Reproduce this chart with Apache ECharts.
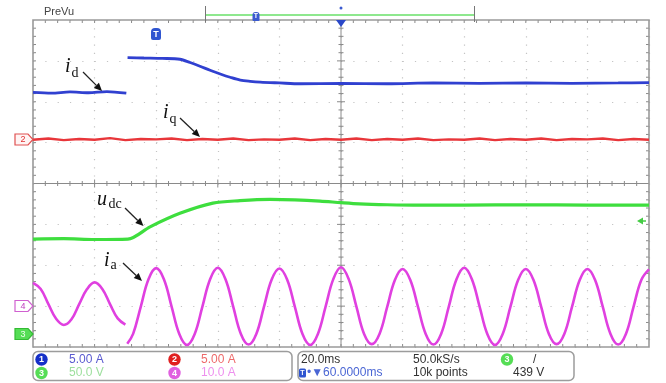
<!DOCTYPE html>
<html><head><meta charset="utf-8">
<script src="https://cdn.jsdelivr.net/npm/echarts@6/dist/echarts.min.js"></script>
<style>html,body{margin:0;padding:0;background:#fff}#c{width:666px;height:383px}</style>
</head><body><div id="c"></div><script>
// ---- data (time in ms, 20 ms/div; values in screen divisions, centre = 0) ----
const timeRange = [0, 200];
const divRange = [-4, 4];

const idT = [0, 6, 12, 18, 24, 30.3, 30.5, 30.7, 36, 42, 47.7, 51, 54.2, 57.5, 60.8, 64, 67.3, 70.5, 73.8, 80, 86.8, 100, 115, 130, 145, 160, 175, 190, 200];
const idV = [2.23, 2.21, 2.24, 2.22, 2.25, 2.21, null, 3.08, 3.07, 3.06, 3.04, 2.96, 2.87, 2.77, 2.68, 2.60, 2.53, 2.50, 2.48, 2.46, 2.44, 2.45, 2.44, 2.46, 2.45, 2.46, 2.45, 2.46, 2.47];

const iqT = [0,5,10,15,20,25,30,35,40,45,50,55,60,65,70,75,80,85,90,95,100,105,110,115,120,125,130,135,140,145,150,155,160,165,170,175,180,185,190,195,200];
const iqV = [1.07,1.10,1.06,1.09,1.07,1.11,1.06,1.09,1.08,1.10,1.06,1.09,1.07,1.10,1.06,1.08,1.07,1.10,1.06,1.09,1.07,1.10,1.06,1.09,1.07,1.10,1.06,1.08,1.07,1.10,1.06,1.09,1.07,1.10,1.06,1.09,1.08,1.10,1.06,1.09,1.07];

const udcT = [0, 10, 20, 30.8, 38.0, 47.7, 58.4, 67.2, 77, 85, 93.2, 100, 106, 115, 125.6, 140, 160, 180, 200];
const udcV = [-1.36, -1.35, -1.37, -1.36, -1.06, -0.73, -0.48, -0.42, -0.39, -0.40, -0.43, -0.47, -0.50, -0.52, -0.53, -0.53, -0.52, -0.53, -0.53];

const iaPreT = [0,2.5,5,7.5,10,12.5,15,17.5,20,22.5,25,27.5,30];
const iaPreV = [-2.43,-2.58,-2.95,-3.31,-3.46,-3.32,-2.95,-2.59,-2.42,-2.58,-2.95,-3.30,-3.45];

const iaPostT = [30.6,32.5,35,37.5,40,42.5,45,47.5,50,52.5,55,57.5,60,62.5,65,67.5,70,72.5,75,77.5,80,82.5,85,87.5,90,92.5,95,97.5,100,102.5,105,107.5,110,112.5,115,117.5,120,122.5,125,127.5,130,132.5,135,137.5,140,142.5,145,147.5,150,152.5,155,157.5,160,162.5,165,167.5,170,172.5,175,177.5,180,182.5,185,187.5,190,192.5,195,197.5,200];
const iaPostV = [-3.92,
 -3.68,-3.01,-2.34,-2.07,-2.34,-3.01,-3.68,-3.95,
 -3.68,-3.01,-2.34,-2.06,-2.34,-3.01,-3.68,-3.94,
 -3.68,-3.01,-2.35,-2.08,-2.35,-3.01,-3.68,-3.95,
 -3.68,-3.01,-2.34,-2.05,-2.34,-3.01,-3.68,-3.93,
 -3.68,-3.02,-2.36,-2.09,-2.36,-3.02,-3.68,-3.94,
 -3.68,-3.01,-2.34,-2.06,-2.34,-3.01,-3.68,-3.95,
 -3.68,-3.02,-2.36,-2.09,-2.36,-3.02,-3.68,-3.93,
 -3.68,-3.02,-2.36,-2.09,-2.36,-3.02,-3.68,-3.94,
 -3.68,-3.01,-2.36,-2.10];

const pairs = (T, V) => T.map((t, i) => [t, V[i] === null ? '-' : V[i]]);

// ---- graticule drawn through the axes' scales ----
function graticule(params, api) {
  const c = (x, y) => api.coord([x, y]);
  const [L, B] = c(timeRange[0], divRange[0]);
  const [R, T] = c(timeRange[1], divRange[1]);
  const [CX, CY] = c((timeRange[0] + timeRange[1]) / 2, 0);
  const els = [];
  const st = { stroke: '#8a8a8a', lineWidth: 1 };
  const line = (x1, y1, x2, y2) => els.push({ type: 'line', shape: { x1, y1, x2, y2 }, style: st });
  line(CX, T, CX, B); line(L, CY, R, CY);
  for (let k = 1; k < 50; k++) {
    const x = c(timeRange[0] + k * 4, 0)[0];
    const h = k % 5 === 0 ? 4 : 2.5;
    line(x, CY - h, x, CY + h); line(x, T, x, T + 3); line(x, B - 3, x, B);
  }
  for (let k = 1; k < 40; k++) {
    const y = c(0, divRange[0] + k * 0.2)[1];
    const h = k % 5 === 0 ? 4 : 2.5;
    line(CX - h, y, CX + h, y); line(L, y, L + 3, y); line(R - 3, y, R, y);
  }
  els.push({ type: 'rect', shape: { x: L, y: T, width: R - L, height: B - T }, style: { fill: 'none', stroke: '#9a9a9a', lineWidth: 1.6 } });
  return { type: 'group', children: els };
}

// ---- annotation helpers ----
const G = [];
function txt(x, y, text, fill, font, align) {
  G.push({ type: 'text', x, y, z: 50, style: { text, fill, font, textAlign: align || 'left', textVerticalAlign: 'middle', verticalAlign: 'middle' } });
}
function arrow(x1, y1, x2, y2) {
  const a = Math.atan2(y2 - y1, x2 - x1), L = 8, W = 3.6;
  const bx = x2 - L * Math.cos(a), by = y2 - L * Math.sin(a);
  G.push({ type: 'line', z: 50, shape: { x1, y1, x2: bx, y2: by }, style: { stroke: '#222', lineWidth: 1.3 } });
  G.push({ type: 'polygon', z: 50, shape: { points: [[x2, y2], [bx + W * Math.sin(a), by - W * Math.cos(a)], [bx - W * Math.sin(a), by + W * Math.cos(a)]] }, style: { fill: '#111' } });
}
function circ(cx, cy, fill, label, lc) {
  G.push({ type: 'circle', z: 50, shape: { cx, cy, r: 6.2 }, style: { fill } });
  txt(cx, cy + 0.5, label, lc || '#fff', 'bold 9px "Liberation Sans"', 'center');
}
function marker(y, stroke, fill, label, lc) {
  G.push({ type: 'polygon', z: 50, shape: { points: [[15, y - 5.5], [28, y - 5.5], [33, y], [28, y + 5.5], [15, y + 5.5]] }, style: { fill, stroke, lineWidth: 1.2 } });
  txt(23, y + 0.5, label, lc, '9px "Liberation Sans"', 'center');
}
const SERIF_I = 'italic 20px "Liberation Serif"';
const SERIF_S = '14px "Liberation Serif"';
// labels
txt(65, 67, 'i', '#111', SERIF_I); txt(71.5, 73, 'd', '#111', SERIF_S); arrow(83, 72, 102, 91);
txt(163, 113, 'i', '#111', SERIF_I); txt(169.5, 119, 'q', '#111', SERIF_S); arrow(180, 118, 200, 137);
txt(97, 200, 'u', '#111', SERIF_I); txt(108.5, 204.5, 'dc', '#111', SERIF_S); arrow(125, 208, 143.5, 226);
txt(104, 261, 'i', '#111', SERIF_I); txt(110.5, 265.5, 'a', '#111', SERIF_S); arrow(123, 263, 142, 281);
// channel markers
marker(139.5, '#e05050', '#fff4f4', '2', '#e03030');
marker(306, '#d060d0', '#fff', '4', '#c040c0');
marker(334, '#33bb33', '#55dd55', '3', '#eaffea');
// trigger level marker right
G.push({ type: 'polygon', z: 50, shape: { points: [[637, 221], [643, 217.5], [643, 224.5]] }, style: { fill: '#44cc44' } });
G.push({ type: 'line', z: 50, shape: { x1: 642, y1: 221, x2: 646, y2: 221 }, style: { stroke: '#44cc44', lineWidth: 1.5 } });
// top bar
txt(44, 12, 'PreVu', '#444', '11px "Liberation Sans"');
G.push({ type: 'line', z: 50, shape: { x1: 205.5, y1: 6, x2: 205.5, y2: 22 }, style: { stroke: '#777', lineWidth: 1 } });
G.push({ type: 'line', z: 50, shape: { x1: 474.5, y1: 6, x2: 474.5, y2: 22 }, style: { stroke: '#777', lineWidth: 1 } });
G.push({ type: 'line', z: 49, shape: { x1: 206, y1: 15, x2: 474, y2: 15 }, style: { stroke: '#8ee88e', lineWidth: 2 } });
G.push({ type: 'rect', z: 50, shape: { x: 252.5, y: 12, width: 7, height: 9, r: [3, 3, 1, 1] }, style: { fill: '#3a5ad0' } });
txt(256, 16.5, 'T', '#fff', 'bold 7px "Liberation Sans"', 'center');
G.push({ type: 'circle', z: 50, shape: { cx: 341, cy: 8, r: 1.5 }, style: { fill: '#3a5ad0' } });
G.push({ type: 'polygon', z: 50, shape: { points: [[336, 20], [346, 20], [341, 27]] }, style: { fill: '#2a48c8' } });
// trigger position marker
G.push({ type: 'rect', z: 50, shape: { x: 151, y: 28, width: 10, height: 12, r: [4, 4, 2, 2] }, style: { fill: '#2f55d0' } });
txt(156, 34.5, 'T', '#fff', 'bold 9px "Liberation Sans"', 'center');
// bottom info panel
G.push({ type: 'rect', z: 40, shape: { x: 33, y: 351.5, width: 259, height: 29, r: 5 }, style: { fill: '#fff', stroke: '#9c9c9c', lineWidth: 1.5 } });
G.push({ type: 'rect', z: 40, shape: { x: 298, y: 351.5, width: 276, height: 29, r: 5 }, style: { fill: '#fff', stroke: '#9c9c9c', lineWidth: 1.5 } });
const PF = '12px "Liberation Sans"';
circ(41.5, 359.5, '#1530c8', '1'); txt(69, 359.5, '5.00 A', '#5a5ad0', PF);
circ(174.5, 359.5, '#e02020', '2'); txt(201, 359.5, '5.00 A', '#ee6a6a', PF);
circ(41.5, 373, '#55dd55', '3'); txt(69, 373, '50.0 V', '#9ddf9d', PF);
circ(174.5, 373, '#e060e0', '4'); txt(201, 373, '10.0 A', '#ee90ee', PF);
txt(301, 359.5, '20.0ms', '#333', PF);
txt(413, 359.5, '50.0kS/s', '#333', PF);
circ(507, 359.5, '#55dd55', '3'); txt(533, 359.5, '/', '#333', PF);
G.push({ type: 'rect', z: 50, shape: { x: 299, y: 368.5, width: 7, height: 9, r: 1.5 }, style: { fill: '#2f55d0' } });
txt(302.5, 373, 'T', '#fff', 'bold 7px "Liberation Sans"', 'center');
txt(307, 373, '•▼60.0000ms', '#4a66d4', PF);
txt(413, 373, '10k points', '#333', PF);
txt(513, 373, '439 V', '#333', PF);

const chart = echarts.init(document.getElementById('c'), null, { renderer: 'canvas' });
chart.setOption({
  animation: false,
  backgroundColor: '#fff',
  grid: { left: 33, top: 20, right: 17, bottom: 36, containLabel: false },
  xAxis: {
    type: 'value', min: timeRange[0], max: timeRange[1], interval: 20,
    axisLine: { show: false }, axisTick: { show: false }, axisLabel: { show: false },
    splitLine: { show: true, lineStyle: { color: '#c4c4c4', width: 1.2, type: [1.2, 6.98] } }
  },
  yAxis: {
    type: 'value', min: divRange[0], max: divRange[1], interval: 1,
    axisLine: { show: false }, axisTick: { show: false }, axisLabel: { show: false },
    splitLine: { show: true, lineStyle: { color: '#c4c4c4', width: 1.2, type: [1.2, 11.12] } }
  },
  series: [
    { type: 'custom', renderItem: graticule, data: [[0, 0]], silent: true, z: 1 },
    { name: 'id', type: 'line', data: pairs(idT, idV), showSymbol: false, smooth: 0.3, connectNulls: false, lineStyle: { color: '#3040d0', width: 2.8 }, z: 3 },
    { name: 'iq', type: 'line', data: pairs(iqT, iqV), showSymbol: false, lineStyle: { color: '#e8363a', width: 2.4 }, z: 3 },
    { name: 'udc', type: 'line', data: pairs(udcT, udcV), showSymbol: false, smooth: 0.3, lineStyle: { color: '#3ede3e', width: 3.2 }, z: 3 },
    { name: 'ia pre', type: 'line', data: pairs(iaPreT, iaPreV), showSymbol: false, smooth: 0.4, lineStyle: { color: '#e040e0', width: 2.6 }, z: 3 },
    { name: 'ia post', type: 'line', data: pairs(iaPostT, iaPostV), showSymbol: false, smooth: 0.4, lineStyle: { color: '#e040e0', width: 2.6 }, z: 3 }
  ],
  graphic: G
});
</script></body></html>
